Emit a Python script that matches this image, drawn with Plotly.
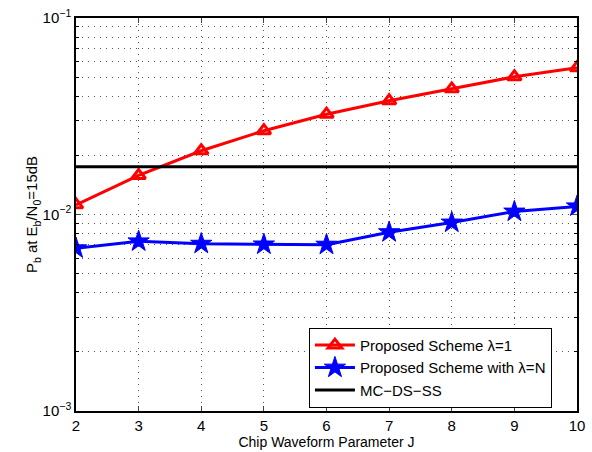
import plotly.graph_objects as go

J = [2, 3, 4, 5, 6, 7, 8, 9, 10]
proposed_l1 = [0.0112, 0.0158, 0.0211, 0.0267, 0.0324, 0.0379, 0.0436, 0.0502, 0.0558]
proposed_lN = [0.00673, 0.0073, 0.0071, 0.00704, 0.00702, 0.00813, 0.0091, 0.01035, 0.0110]
mcdsss = [0.0175] * len(J)

ytickvals = [0.001, 0.01, 0.1]
yticktext = ["10<sup>−3</sup>", "10<sup>−2</sup>", "10<sup>−1</sup>"]
yminor = [m * d for d in (0.001, 0.01) for m in range(2, 10)]

font = "Liberation Sans, Arial, Helvetica, sans-serif"
dots = "1px,5px"

fig = go.Figure()
fig.add_trace(go.Scatter(
    x=J, y=proposed_l1, mode="lines+markers", name="Proposed Scheme λ=1",
    line=dict(color="#ff0000", width=3),
    marker=dict(symbol="triangle-up-open", size=12, color="#ff0000",
                line=dict(color="#ff0000", width=3)),
))
fig.add_trace(go.Scatter(
    x=J, y=proposed_lN, mode="lines+markers", name="Proposed Scheme with λ=N",
    line=dict(color="#0000ff", width=3),
    marker=dict(symbol="star", size=16, color="#0000ff",
                line=dict(color="#0000ff", width=1)),
))
fig.add_trace(go.Scatter(
    x=J, y=mcdsss, mode="lines", name="MC−DS−SS",
    line=dict(color="#000000", width=3),
))

fig.update_layout(
    width=592, height=452,
    margin=dict(l=76, r=15, t=18, b=41, autoexpand=False),
    paper_bgcolor="white", plot_bgcolor="white",
    font=dict(family=font, size=15, color="black"),
    showlegend=True,
    legend=dict(
        x=0.95, y=0.008, xanchor="right", yanchor="bottom",
        bgcolor="white", bordercolor="black", borderwidth=1,
        font=dict(size=15, family=font),
        tracegroupgap=0, itemwidth=40,
    ),
    xaxis=dict(
        range=[2, 10], tickvals=J, ticks="inside", ticklen=5,
        showline=True, linecolor="black", linewidth=1.5, mirror="allticks",
        showgrid=True, gridcolor="#555555", griddash=dots, gridwidth=1,
        zeroline=False, automargin=False,
        title=dict(text="Chip Waveform Parameter J", font=dict(size=14), standoff=2),
        tickfont=dict(size=15),
    ),
    yaxis=dict(
        type="log", range=[-3, -1], automargin=False,
        tickvals=ytickvals, ticktext=yticktext, ticks="inside", ticklen=5,
        showline=True, linecolor="black", linewidth=1.5, mirror="allticks",
        showgrid=True, gridcolor="#555555", griddash=dots, gridwidth=1,
        zeroline=False,
        minor=dict(tickvals=yminor, ticks="inside", ticklen=3, tickcolor="black",
                   showgrid=True, gridcolor="#555555", griddash=dots, gridwidth=1),
        title=dict(text="P<sub>b</sub> at E<sub>b</sub>/N<sub>0</sub>=15dB",
                   font=dict(size=15), standoff=0),
        tickfont=dict(size=15),
    ),
)

fig.write_html("out.html")
